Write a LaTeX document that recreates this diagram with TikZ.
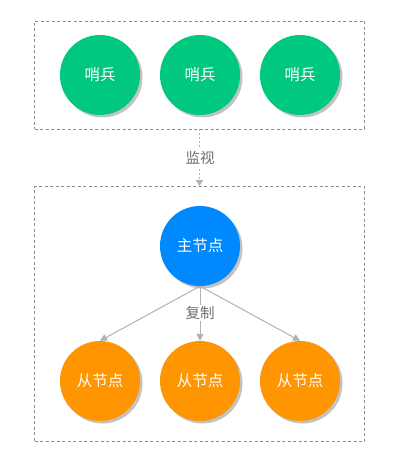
\documentclass[tikz,border=0pt]{standalone}
\usepackage{fontspec}
\setmainfont{Noto Sans CJK SC}
\usetikzlibrary{arrows.meta}
\definecolor{sentinel}{RGB}{0,201,127}
\definecolor{master}{RGB}{0,136,255}
\definecolor{slave}{RGB}{255,149,0}
\definecolor{frame}{RGB}{140,140,140}
\definecolor{link}{RGB}{178,178,178}
\definecolor{labelgray}{RGB}{110,110,110}
\tikzset{
  x=1pt, y=-1pt,
  ball/.style={circle, minimum size=80pt, inner sep=0pt, text=white,
    font=\fontsize{15.5}{17}\selectfont,
    preaction={fill=black!24, transform canvas={shift={(2.5pt,-2.5pt)}}}},
  groupbox/.style={draw=frame, dashed, dash pattern=on 3pt off 2.5pt, line width=0.8pt},
  edge/.style={draw=link, line width=1pt, -{Triangle[width=7pt,length=7pt]}},
  tag/.style={fill=white, inner sep=2pt, text=labelgray, font=\fontsize{14.5}{16}\selectfont}
}
\begin{document}
\begin{tikzpicture}
  \useasboundingbox (0,0) rectangle (401,465);

  % group frames
  \node[groupbox, minimum width=330pt, minimum height=108pt, inner sep=0pt] (top) at (199.5,75) {};
  \node[groupbox, minimum width=330pt, minimum height=255pt, inner sep=0pt] (bottom) at (199.5,314) {};

  % sentinels
  \node[ball, fill=sentinel] (s1) at (100,75) {哨兵};
  \node[ball, fill=sentinel] (s2) at (200,75) {哨兵};
  \node[ball, fill=sentinel] (s3) at (300,75) {哨兵};

  % master and replicas
  \node[ball, fill=master] (m) at (200,246) {主节点};
  \node[ball, fill=slave] (r1) at (100,381) {从节点};
  \node[ball, fill=slave] (r2) at (200,381) {从节点};
  \node[ball, fill=slave] (r3) at (300,381) {从节点};

  % monitoring link
  \draw[draw=link, line width=1.2pt, dash pattern=on 2pt off 2pt,
        -{Triangle[width=7pt,length=6pt]}] (top.south) -- (bottom.north);
  \node[tag] (watch) at (200,158) {监视};

  % replication links
  \draw[edge] (m.south) -- (r1.north);
  \draw[edge] (m.south) -- (r3.north);
  \draw[edge] (m.south) -- (r2.north);
  \node[tag, inner sep=1pt] (copy) at (200,313) {复制};
\end{tikzpicture}
\end{document}
